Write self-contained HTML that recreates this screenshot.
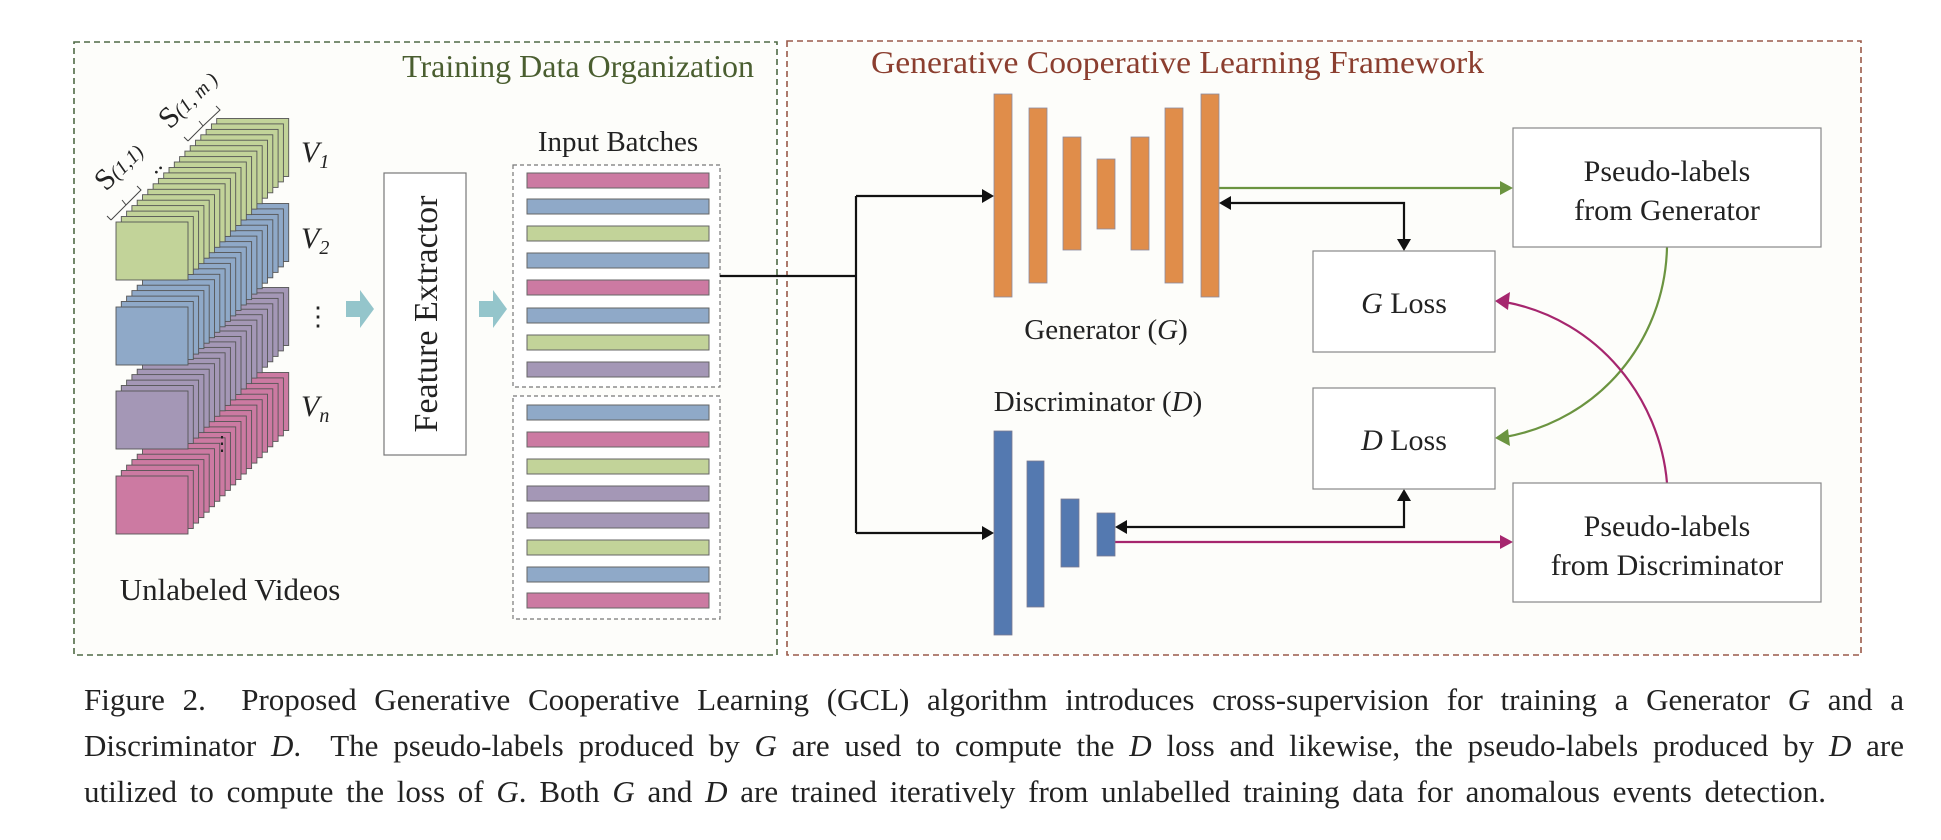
<!DOCTYPE html>
<html><head><meta charset="utf-8"><style>
html,body{margin:0;padding:0;background:#fff;}
body{width:1941px;height:840px;overflow:hidden;position:relative;}
svg{position:absolute;left:0;top:0;}
.cap{position:absolute;left:84px;width:1820px;font-family:"Liberation Serif",serif;font-size:31px;color:#222;white-space:nowrap;}
.j{text-align:justify;text-align-last:justify;white-space:normal;}
i.m{font-family:"Liberation Serif",serif;font-style:italic;}
</style></head><body>
<svg width="1941" height="840" viewBox="0 0 1941 840" font-family="Liberation Serif, serif">
<defs>
<rect id="L" width="72" height="58" stroke="#555" stroke-width="0.9"/>
<g id="stk">
<use href="#L" x="100.7" y="-103.5"/><use href="#L" x="95.4" y="-98.1"/><use href="#L" x="90.1" y="-92.6"/><use href="#L" x="84.8" y="-87.2"/><use href="#L" x="79.5" y="-81.8"/><use href="#L" x="74.2" y="-76.3"/><use href="#L" x="68.9" y="-70.9"/><use href="#L" x="63.6" y="-65.4"/><use href="#L" x="58.3" y="-60"/><use href="#L" x="53" y="-54.5"/><use href="#L" x="47.7" y="-49.1"/><use href="#L" x="42.4" y="-43.6"/><use href="#L" x="37.1" y="-38.2"/><use href="#L" x="31.8" y="-32.7"/><use href="#L" x="26.5" y="-27.3"/><use href="#L" x="21.2" y="-21.8"/><use href="#L" x="15.9" y="-16.4"/><use href="#L" x="10.6" y="-10.9"/><use href="#L" x="5.3" y="-5.5"/><use href="#L" x="0" y="0"/>
</g>
</defs>
<rect x="74" y="42" width="703" height="613" fill="#fdfdfa" stroke="#4f6a45" stroke-width="1.6" stroke-dasharray="6,4"/>
<rect x="787" y="41" width="1074" height="614" fill="#fdfdfa" stroke="#9a5a4a" stroke-width="1.6" stroke-dasharray="6,4"/>
<text x="754" y="77" text-anchor="end" font-size="32" fill="#4a5e30">Training Data Organization</text>
<text x="871" y="73" font-size="32" fill="#8b3e2f" textLength="613" lengthAdjust="spacingAndGlyphs">Generative Cooperative Learning Framework</text>

<use href="#stk" x="116" y="476" fill="#cc7aa2"/>
<use href="#stk" x="116" y="391" fill="#a497b6"/>
<use href="#stk" x="116" y="307" fill="#8fa9c8"/>
<use href="#stk" x="116" y="222" fill="#c2d399"/>
<text x="212" y="450" font-size="20" fill="#222">⋮</text>
<path d="M111 220 l-4 -4 M111 220 L126 205 L122 200 M126 205 L141 190 l-4 -4" fill="none" stroke="#444" stroke-width="1"/>
<path d="M188 141 l-4 -4 M188 141 L203 126 L199 121 M203 126 L220 110 l-4 -4" fill="none" stroke="#444" stroke-width="1"/>
<text x="0" y="0" font-size="30" fill="#222" transform="translate(106,192) rotate(-45)">S<tspan font-size="20" font-style="italic">(1,1)</tspan></text>
<text x="0" y="0" font-size="30" fill="#222" transform="translate(170,130) rotate(-45)">S<tspan font-size="20" font-style="italic">(1, m )</tspan></text>
<text x="0" y="0" font-size="24" fill="#222" transform="translate(155,175) rotate(-45)">..</text>
<text x="301" y="162" font-size="30" font-style="italic" fill="#222">V<tspan font-size="20" dy="6">1</tspan></text>
<text x="301" y="248" font-size="30" font-style="italic" fill="#222">V<tspan font-size="20" dy="6">2</tspan></text>
<text x="305" y="325" font-size="26" fill="#222">⋮</text>
<text x="301" y="416" font-size="30" font-style="italic" fill="#222">V<tspan font-size="20" dy="6">n</tspan></text>
<text x="230" y="600" text-anchor="middle" font-size="31" fill="#222">Unlabeled Videos</text>

<polygon points="346,301 360,301 360,290 374,309 360,328 360,317 346,317" fill="#94c5cb"/>
<polygon points="479,301 493,301 493,290 507,309 493,328 493,317 479,317" fill="#94c5cb"/>
<rect x="384" y="173" width="82" height="282" fill="#fff" stroke="#777" stroke-width="1.2"/>
<text x="0" y="0" font-size="34" fill="#222" text-anchor="middle" transform="translate(437,314) rotate(-90)">Feature Extractor</text>
<text x="618" y="151" text-anchor="middle" font-size="29" fill="#222">Input Batches</text>
<rect x="513" y="165" width="207" height="222" fill="#fff" stroke="#777" stroke-width="1.2" stroke-dasharray="4,3"/>
<rect x="513" y="396" width="207" height="223" fill="#fff" stroke="#777" stroke-width="1.2" stroke-dasharray="4,3"/>
<g stroke="#666" stroke-width="1">
<rect x="527" y="173" width="182" height="15" fill="#cc7aa2"/>
<rect x="527" y="199" width="182" height="15" fill="#8fa9c8"/>
<rect x="527" y="226" width="182" height="15" fill="#c2d399"/>
<rect x="527" y="253" width="182" height="15" fill="#8fa9c8"/>
<rect x="527" y="280" width="182" height="15" fill="#cc7aa2"/>
<rect x="527" y="308" width="182" height="15" fill="#8fa9c8"/>
<rect x="527" y="335" width="182" height="15" fill="#c2d399"/>
<rect x="527" y="362" width="182" height="15" fill="#a497b6"/>
<rect x="527" y="405" width="182" height="15" fill="#8fa9c8"/>
<rect x="527" y="432" width="182" height="15" fill="#cc7aa2"/>
<rect x="527" y="459" width="182" height="15" fill="#c2d399"/>
<rect x="527" y="486" width="182" height="15" fill="#a497b6"/>
<rect x="527" y="513" width="182" height="15" fill="#a497b6"/>
<rect x="527" y="540" width="182" height="15" fill="#c2d399"/>
<rect x="527" y="567" width="182" height="15" fill="#8fa9c8"/>
<rect x="527" y="593" width="182" height="15" fill="#cc7aa2"/>
</g>

<g stroke="#111" stroke-width="2.2" fill="none">
<path d="M720 276 H856 M856 196 V533 M856 196 H984 M856 533 H984"/>
<path d="M1229 203 H1404 V241"/>
<path d="M1125 527 H1404 V499"/>
</g>
<g fill="#111">
<polygon points="994,196 982,189 982,203"/>
<polygon points="994,533 982,526 982,540"/>
<polygon points="1219,203 1231,196 1231,210"/>
<polygon points="1404,251 1397,239 1411,239"/>
<polygon points="1115,527 1127,520 1127,534"/>
<polygon points="1404,489 1397,501 1411,501"/>
</g>
<path d="M1219 188 H1503" stroke="#6b9440" stroke-width="2.2"/>
<polygon points="1513,188 1500,181 1500,195" fill="#6b9440"/>
<path d="M1115 542 H1503" stroke="#a6266e" stroke-width="2.2"/>
<polygon points="1513,542 1500,535 1500,549" fill="#a6266e"/>
<path d="M1667 247 C1665 340 1600 420 1505 437" stroke="#6b9440" stroke-width="2.2" fill="none"/>
<polygon points="1495,438 1508,429 1510,446" fill="#6b9440"/>
<path d="M1667 483 C1660 400 1600 320 1505 302" stroke="#a6266e" stroke-width="2.2" fill="none"/>
<polygon points="1495,301 1510,292 1508,310" fill="#a6266e"/>

<g fill="#e08d4a" stroke="#8a8aa0" stroke-width="0.8">
<rect x="994" y="94" width="18" height="203"/>
<rect x="1029" y="108" width="18" height="175"/>
<rect x="1063" y="137" width="18" height="113"/>
<rect x="1097" y="159" width="18" height="70"/>
<rect x="1131" y="137" width="18" height="113"/>
<rect x="1165" y="108" width="18" height="175"/>
<rect x="1201" y="94" width="18" height="203"/>
</g>
<text x="1106" y="339" text-anchor="middle" font-size="29" fill="#222">Generator (<tspan font-style="italic">G</tspan>)</text>
<text x="1098" y="411" text-anchor="middle" font-size="29" fill="#222">Discriminator (<tspan font-style="italic">D</tspan>)</text>
<g fill="#5479b0" stroke="#7a7a90" stroke-width="0.8">
<rect x="994" y="431" width="18" height="204"/>
<rect x="1027" y="461" width="17" height="146"/>
<rect x="1061" y="499" width="18" height="68"/>
<rect x="1097" y="513" width="18" height="43"/>
</g>
<g fill="#fff" stroke="#888" stroke-width="1.2">
<rect x="1313" y="251" width="182" height="101"/>
<rect x="1313" y="388" width="182" height="101"/>
<rect x="1513" y="128" width="308" height="119"/>
<rect x="1513" y="483" width="308" height="119"/>
</g>
<text x="1404" y="313" text-anchor="middle" font-size="30" fill="#222"><tspan font-style="italic">G</tspan> Loss</text>
<text x="1404" y="450" text-anchor="middle" font-size="30" fill="#222"><tspan font-style="italic">D</tspan> Loss</text>
<text x="1667" y="181" text-anchor="middle" font-size="30" fill="#222">Pseudo-labels</text>
<text x="1667" y="220" text-anchor="middle" font-size="30" fill="#222">from Generator</text>
<text x="1667" y="536" text-anchor="middle" font-size="30" fill="#222">Pseudo-labels</text>
<text x="1667" y="575" text-anchor="middle" font-size="30" fill="#222">from Discriminator</text>
</svg>
<div class="cap j" style="top:682px;">Figure 2.&nbsp; Proposed Generative Cooperative Learning (GCL) algorithm introduces cross-supervision for training a Generator <i class="m">G</i> and a</div>
<div class="cap j" style="top:728px;">Discriminator <i class="m">D</i>.&nbsp; The pseudo-labels produced by <i class="m">G</i> are used to compute the <i class="m">D</i> loss and likewise, the pseudo-labels produced by <i class="m">D</i> are</div>
<div class="cap j" style="top:774px;width:1742px;">utilized to compute the loss of <i class="m">G</i>. Both <i class="m">G</i> and <i class="m">D</i> are trained iteratively from unlabelled training data for anomalous events detection.</div>
</body></html>
